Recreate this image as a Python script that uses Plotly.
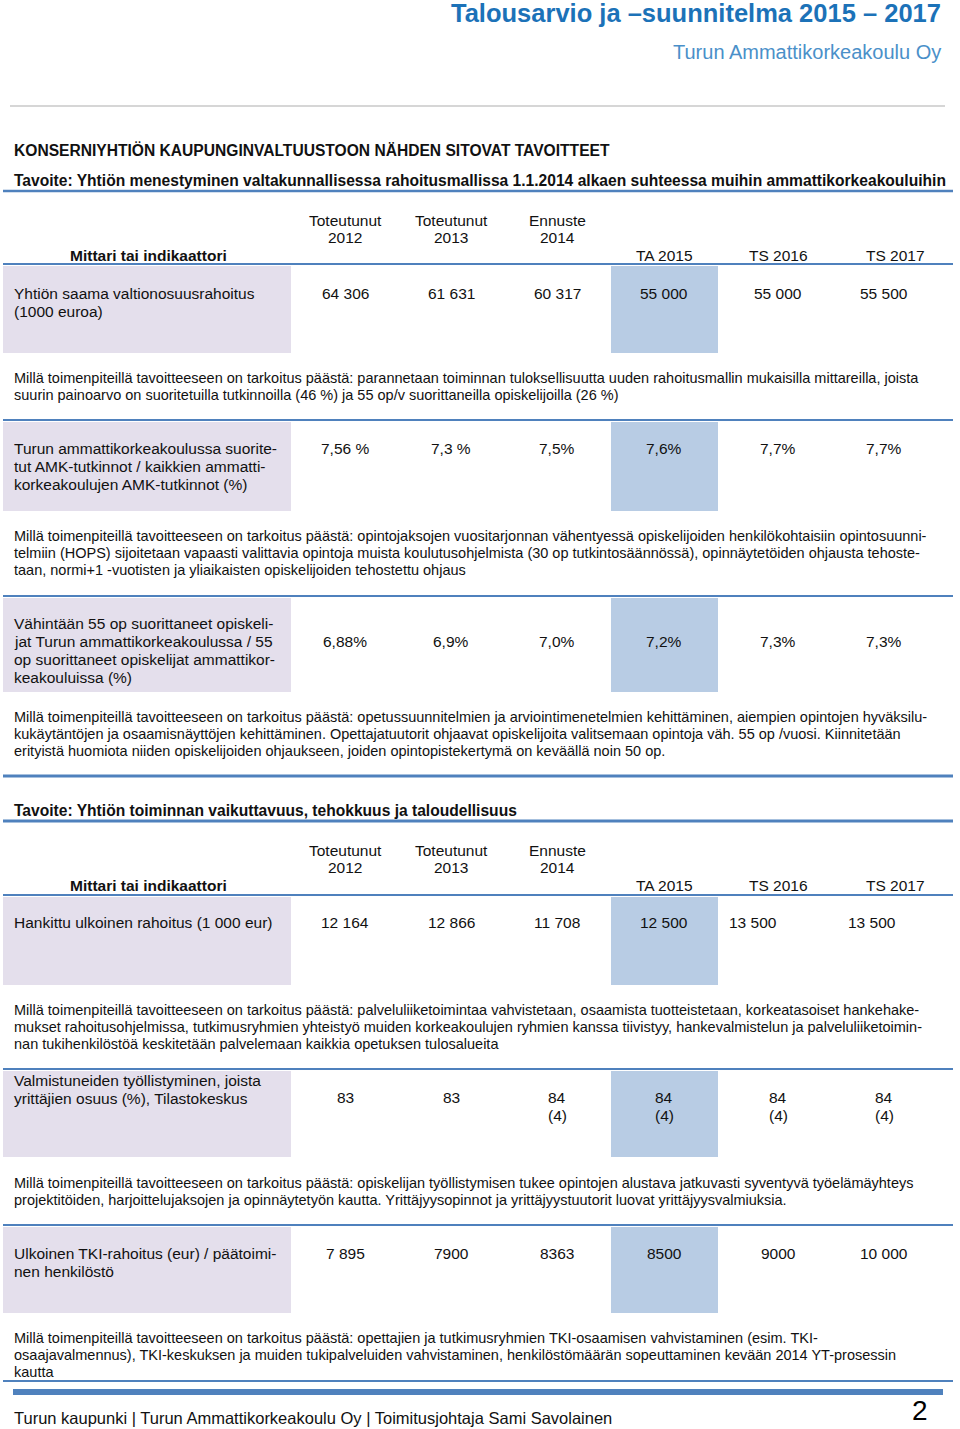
import plotly.graph_objects as go

# ---------------- data ----------------
doc_title = "Talousarvio ja –suunnitelma 2015 – 2017"
doc_subtitle = "Turun Ammattikorkeakoulu Oy"
section_heading = "KONSERNIYHTIÖN KAUPUNGINVALTUUSTOON NÄHDEN SITOVAT TAVOITTEET"
goals = [
    "Tavoite: Yhtiön menestyminen valtakunnallisessa rahoitusmallissa 1.1.2014 alkaen suhteessa muihin ammattikorkeakouluihin",
    "Tavoite: Yhtiön toiminnan vaikuttavuus, tehokkuus ja taloudellisuus",
]
indicator_header = "Mittari tai indikaattori"
column_headers = ["Toteutunut<br>2012", "Toteutunut<br>2013", "Ennuste<br>2014", "TA 2015", "TS 2016", "TS 2017"]

indicators = [
    "Yhtiön saama valtionosuusrahoitus<br>(1000 euroa)",
    "Turun ammattikorkeakoulussa suorite-<br>tut AMK-tutkinnot / kaikkien ammatti-<br>korkeakoulujen AMK-tutkinnot (%)",
    "Vähintään 55 op suorittaneet opiskeli-<br>jat Turun ammattikorkeakoulussa / 55<br>op suorittaneet opiskelijat ammattikor-<br>keakouluissa (%)",
    "Hankittu ulkoinen rahoitus (1 000 eur)",
    "Valmistuneiden työllistyminen, joista<br>yrittäjien osuus (%), Tilastokeskus",
    "Ulkoinen TKI-rahoitus (eur) / päätoimi-<br>nen henkilöstö",
]
toteutunut_2012 = ["64 306", "7,56 %", "6,88%", "12 164", "83", "7 895"]
toteutunut_2013 = ["61 631", "7,3 %", "6,9%", "12 866", "83", "7900"]
ennuste_2014 = ["60 317", "7,5%", "7,0%", "11 708", "84<br>(4)", "8363"]
ta_2015 = ["55 000", "7,6%", "7,2%", "12 500", "84<br>(4)", "8500"]
ts_2016 = ["55 000", "7,7%", "7,3%", "13 500", "84<br>(4)", "9000"]
ts_2017 = ["55 500", "7,7%", "7,3%", "13 500", "84<br>(4)", "10 000"]
value_columns = [toteutunut_2012, toteutunut_2013, ennuste_2014, ta_2015, ts_2016, ts_2017]

measure_prefix = "Millä toimenpiteillä tavoitteeseen on tarkoitus päästä: "
measures = [
    "parannetaan toiminnan tuloksellisuutta uuden rahoitusmallin mukaisilla mittareilla, joista<br>"
    "suurin painoarvo on suoritetuilla tutkinnoilla (46 %) ja 55 op/v suorittaneilla opiskelijoilla (26 %)",
    "opintojaksojen vuositarjonnan vähentyessä opiskelijoiden henkilökohtaisiin opintosuunni-<br>"
    "telmiin (HOPS) sijoitetaan vapaasti valittavia opintoja muista koulutusohjelmista (30 op tutkintosäännössä), opinnäytetöiden ohjausta tehoste-<br>"
    "taan, normi+1 -vuotisten ja yliaikaisten opiskelijoiden tehostettu ohjaus",
    "opetussuunnitelmien ja arviointimenetelmien kehittäminen, aiempien opintojen hyväksilu-<br>"
    "kukäytäntöjen ja osaamisnäyttöjen kehittäminen. Opettajatuutorit ohjaavat opiskelijoita valitsemaan opintoja väh. 55 op /vuosi. Kiinnitetään<br>"
    "erityistä huomiota niiden opiskelijoiden ohjaukseen, joiden opintopistekertymä on keväällä noin 50 op.",
    "palveluliiketoimintaa vahvistetaan, osaamista tuotteistetaan, korkeatasoiset hankehake-<br>"
    "mukset rahoitusohjelmissa, tutkimusryhmien yhteistyö muiden korkeakoulujen ryhmien kanssa tiivistyy, hankevalmistelun ja palveluliiketoimin-<br>"
    "nan tukihenkilöstöä keskitetään palvelemaan kaikkia opetuksen tulosalueita",
    "opiskelijan työllistymisen tukee opintojen alustava jatkuvasti syventyvä työelämäyhteys<br>"
    "projektitöiden, harjoittelujaksojen ja opinnäytetyön kautta. Yrittäjyysopinnot ja yrittäjyystuutorit luovat yrittäjyysvalmiuksia.",
    "opettajien ja tutkimusryhmien TKI-osaamisen vahvistaminen (esim. TKI-<br>"
    "osaajavalmennus), TKI-keskuksen ja muiden tukipalveluiden vahvistaminen, henkilöstömäärän sopeuttaminen kevään 2014 YT-prosessin<br>"
    "kautta",
]
footer_text = "Turun kaupunki | Turun Ammattikorkeakoulu Oy | Toimitusjohtaja Sami Savolainen"
page_number = "2"

# ---------------- layout / style ----------------
W, H = 960, 1429
FONT = "Liberation Sans, Arial, sans-serif"
FS_TAB = 15.5
FS_PARA = 14.5
LINE_H = 17.5
BLUE_LINE = "#4f81bd"
PURPLE = "#e4dfec"
LIGHTBLUE = "#b8cce4"
TEXT = "#111111"

col_x = [345, 451, 557, 664, 778, 884]
header_x = [345, 451, 557, 664, 778, 895]
goal_line_y = [191, 821]
row_line_y = [264, 420, 596, 895, 1069, 1225]
row_bottom_y = [353, 511, 692, 985, 1157, 1313]
label_y = [293, 448, 623, 922, 1080, 1253]
value_y = [293, 448, 641, 922, 1097, 1253]
para_y = [378, 536, 717, 1010, 1183, 1338]
value_override = {(3, 4): (728, "left"), (3, 5): (847, "left")}

shapes = []
annotations = []


def text(x, y, s, size=FS_TAB, anchor="left", color=TEXT, bold=False, family=FONT, lh=LINE_H):
    for i, line in enumerate(s.split("<br>")):
        t = "<b>" + line + "</b>" if bold else line
        annotations.append(dict(
            x=x, y=y + i * lh, xref="x", yref="y", text=t, showarrow=False,
            xanchor=anchor, yanchor="middle", align=anchor,
            font=dict(family=family, size=size, color=color), borderpad=0,
        ))


def hline(y, x0=3, x1=953, width=2, color=BLUE_LINE):
    shapes.append(dict(type="line", x0=x0, x1=x1, y0=y, y1=y, xref="x", yref="y",
                       line=dict(color=color, width=width)))


def rect(x0, x1, y0, y1, color):
    shapes.append(dict(type="rect", x0=x0, x1=x1, y0=y0, y1=y1, xref="x", yref="y",
                       fillcolor=color, line=dict(width=0), layer="below"))


# page header
text(942, 13, doc_title, size=25.5, anchor="right", color="#1c72b8", bold=True)
text(942, 52, doc_subtitle, size=20, anchor="right", color="#4a90c9")
hline(106, x0=10, x1=945, width=1.5, color="#c8c8c8")
text(13, 150, section_heading, size=15.6, bold=True)

# goals and table headers
goal_text_y = [180, 810]
for g, gy in enumerate(goal_line_y):
    text(13, goal_text_y[g], goals[g], size=15.6, bold=True)
    hline(gy, width=3 if g == 1 else 2.5)
    for c, h in enumerate(column_headers):
        yy = gy + 29 if "<br>" in h else gy + 64
        text(header_x[c], yy, h, anchor="center")
    text(148, gy + 64, indicator_header, anchor="center", bold=True)

# rows
for r, name in enumerate(indicators):
    top = row_line_y[r]
    bot = row_bottom_y[r]
    rect(3, 291, top + 2, bot, PURPLE)
    rect(611, 718, top + 2, bot, LIGHTBLUE)
    hline(top, width=2)
    text(13, label_y[r], name, lh=18)
    for c, col in enumerate(value_columns):
        x, anc = value_override.get((r, c), (col_x[c], "center"))
        text(x, value_y[r], col[r], anchor=anc, lh=18)
    text(13, para_y[r], measure_prefix + measures[r], size=FS_PARA, lh=17)

hline(776, width=3)
hline(1381, width=2)
hline(1392, x0=13, x1=943, width=6)

# footer
text(13, 1418, footer_text, size=16.5)
text(929, 1410.5, page_number, size=28, anchor="right", color="#000000")

fig = go.Figure()
fig.update_layout(
    width=W, height=H, margin=dict(l=0, r=0, t=0, b=0),
    paper_bgcolor="white", plot_bgcolor="white",
    xaxis=dict(range=[0, W], visible=False, fixedrange=True),
    yaxis=dict(range=[H, 0], visible=False, fixedrange=True),
    shapes=shapes, annotations=annotations, showlegend=False,
)
fig.write_html("out.html", config={"displayModeBar": False},
               post_script="document.body.style.margin='0';")
